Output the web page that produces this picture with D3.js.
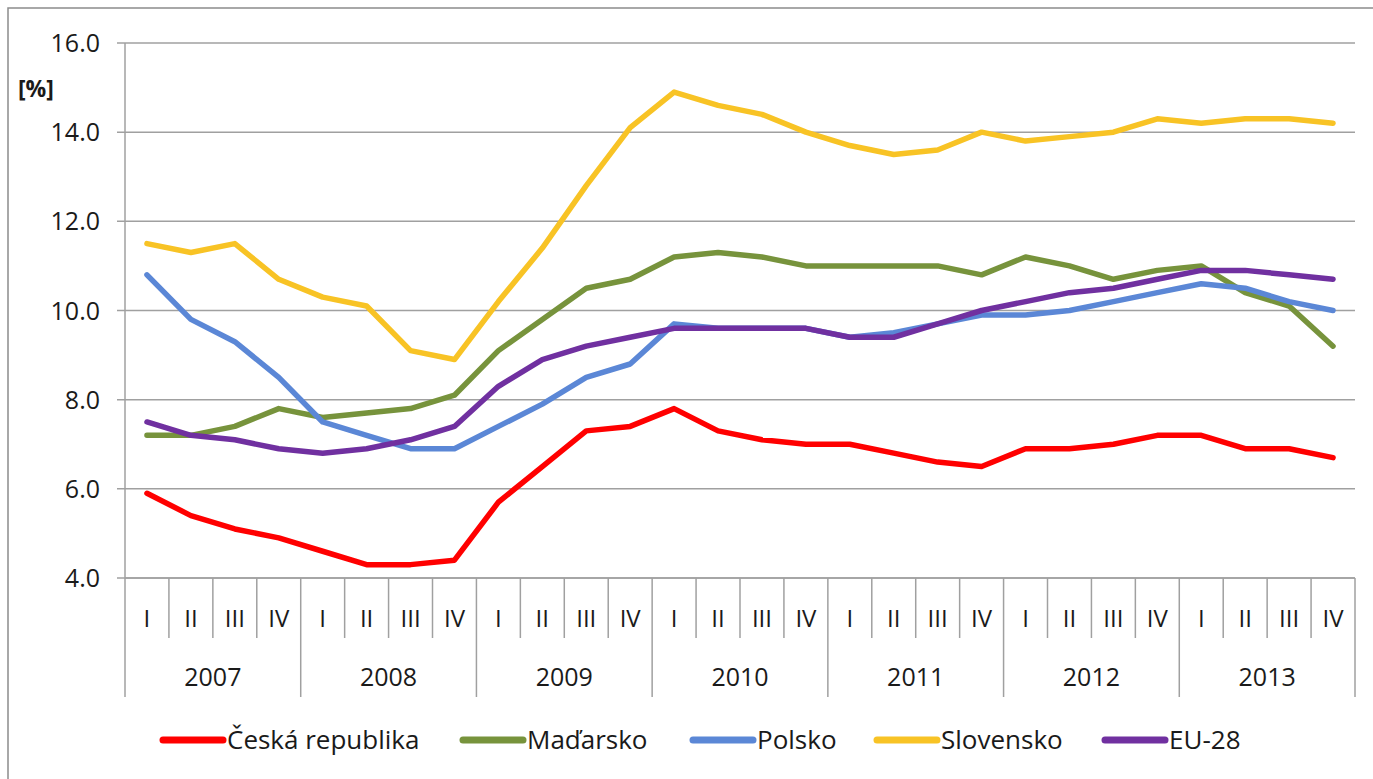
<!DOCTYPE html>
<html>
<head>
<meta charset="utf-8">
<script src="https://cdn.jsdelivr.net/npm/d3@7"></script>
<style>
  body { margin: 0; background: #fff; }
  svg text { font-family: "Open Sans", Lato, sans-serif; fill: #1a1a1a; }
</style>
</head>
<body>
<div id="chart"></div>
<script>
window.onload = () => {
    // data
    const years = ["2007", "2008", "2009", "2010", "2011", "2012", "2013"];
    const quarters = ["I", "II", "III", "IV"];
    const yTicks = [4, 6, 8, 10, 12, 14, 16];

    const seriesNames = ["Česká republika", "Maďarsko", "Polsko", "Slovensko", "EU-28"];
    const seriesColors = ["#ff0000", "#77933c", "#5b87d6", "#f8c325", "#7030a0"];

    const cz = [5.9, 5.4, 5.1, 4.9, 4.6, 4.3, 4.3, 4.4, 5.7, 6.5, 7.3, 7.4, 7.8, 7.3,
                7.1, 7.0, 7.0, 6.8, 6.6, 6.5, 6.9, 6.9, 7.0, 7.2, 7.2, 6.9, 6.9, 6.7];
    const hu = [7.2, 7.2, 7.4, 7.8, 7.6, 7.7, 7.8, 8.1, 9.1, 9.8, 10.5, 10.7, 11.2, 11.3,
                11.2, 11.0, 11.0, 11.0, 11.0, 10.8, 11.2, 11.0, 10.7, 10.9, 11.0, 10.4, 10.1, 9.2];
    const pl = [10.8, 9.8, 9.3, 8.5, 7.5, 7.2, 6.9, 6.9, 7.4, 7.9, 8.5, 8.8, 9.7, 9.6,
                9.6, 9.6, 9.4, 9.5, 9.7, 9.9, 9.9, 10.0, 10.2, 10.4, 10.6, 10.5, 10.2, 10.0];
    const sk = [11.5, 11.3, 11.5, 10.7, 10.3, 10.1, 9.1, 8.9, 10.2, 11.4, 12.8, 14.1, 14.9, 14.6,
                14.4, 14.0, 13.7, 13.5, 13.6, 14.0, 13.8, 13.9, 14.0, 14.3, 14.2, 14.3, 14.3, 14.2];
    const eu = [7.5, 7.2, 7.1, 6.9, 6.8, 6.9, 7.1, 7.4, 8.3, 8.9, 9.2, 9.4, 9.6, 9.6,
                9.6, 9.6, 9.4, 9.4, 9.7, 10.0, 10.2, 10.4, 10.5, 10.7, 10.9, 10.9, 10.8, 10.7];

    const seriesValues = [cz, hu, pl, sk, eu];

    const W = 1373, H = 779;
    const left = 125, right = 1355, top = 43, bottom = 578;
    const gridColor = "#a0a0a0";

    const cats = [];
    years.forEach(yr => quarters.forEach(q => cats.push({ year: yr, q: q })));

    const svg = d3.select("#chart").append("svg")
        .attr("width", W)
        .attr("height", H);

    // outer frame
    svg.append("rect")
        .attr("x", 8)
        .attr("y", 8)
        .attr("width", W + 20)
        .attr("height", H + 20)
        .style("fill", "none")
        .style("stroke", "#8c8c8c")
        .style("stroke-width", 1.5);

    const x = d3.scaleBand()
        .domain(d3.range(cats.length))
        .range([left, right])
        .paddingInner(0)
        .paddingOuter(0);
    const bw = x.bandwidth();
    const cx = i => x(i) + bw / 2;

    const y = d3.scaleLinear()
        .domain([4, 16])
        .range([bottom, top]);

    // gridlines + small ticks to the left
    svg.append("g")
        .selectAll("line")
        .data(yTicks)
        .enter()
        .append("line")
        .attr("x1", left - 8)
        .attr("x2", right)
        .attr("y1", d => y(d))
        .attr("y2", d => y(d))
        .style("stroke", gridColor)
        .style("stroke-width", 1.5);

    // y axis line
    svg.append("line")
        .attr("x1", left).attr("x2", left)
        .attr("y1", top).attr("y2", bottom)
        .style("stroke", gridColor)
        .style("stroke-width", 1.5);

    svg.append("g")
        .selectAll("text")
        .data(yTicks)
        .enter()
        .append("text")
        .text(d => d3.format(".1f")(d))
        .attr("x", 100)
        .attr("y", d => y(d))
        .attr("dy", "0.36em")
        .attr("text-anchor", "end")
        .style("font-size", "25px");

    svg.append("text")
        .text("[%]")
        .attr("x", 18)
        .attr("y", 97)
        .style("font-size", "23px")
        .style("font-weight", "bold");

    // category axis, two levels
    const catAxis = svg.append("g");
    catAxis.selectAll("line.q")
        .data(d3.range(cats.length + 1))
        .enter()
        .append("line")
        .attr("class", "q")
        .attr("x1", i => i < cats.length ? x(i) : right)
        .attr("x2", i => i < cats.length ? x(i) : right)
        .attr("y1", bottom)
        .attr("y2", i => i % 4 === 0 ? 697 : 638)
        .style("stroke", gridColor)
        .style("stroke-width", 1.5);

    catAxis.append("line")
        .attr("x1", left).attr("x2", right)
        .attr("y1", bottom).attr("y2", bottom)
        .style("stroke", gridColor)
        .style("stroke-width", 1.5);

    catAxis.selectAll("text.q")
        .data(cats)
        .enter()
        .append("text")
        .attr("class", "q")
        .text(d => d.q)
        .attr("x", (d, i) => cx(i))
        .attr("y", 618)
        .attr("dy", "0.36em")
        .attr("text-anchor", "middle")
        .style("font-size", "24px");

    catAxis.selectAll("text.yr")
        .data(years)
        .enter()
        .append("text")
        .attr("class", "yr")
        .text(d => d)
        .attr("x", (d, i) => x(i * 4) + bw * 2)
        .attr("y", 677)
        .attr("dy", "0.36em")
        .attr("text-anchor", "middle")
        .style("font-size", "25px");

    // lines
    const line = d3.line()
        .x((d, i) => cx(i))
        .y(d => y(d));

    svg.append("g")
        .selectAll("path")
        .data(seriesValues)
        .enter()
        .append("path")
        .attr("d", line)
        .style("fill", "none")
        .style("stroke", (d, i) => seriesColors[i])
        .style("stroke-width", 5.5)
        .style("stroke-linejoin", "round")
        .style("stroke-linecap", "round");

    // legend
    const legendX = [163, 463, 693, 877, 1105];
    const legend = svg.append("g")
        .selectAll("g")
        .data(seriesNames)
        .enter()
        .append("g")
        .attr("transform", (d, i) => "translate(" + legendX[i] + ",740)");

    legend.append("line")
        .attr("x1", 0).attr("x2", 60)
        .attr("y1", 0).attr("y2", 0)
        .style("stroke", (d, i) => seriesColors[i])
        .style("stroke-width", 7)
        .style("stroke-linecap", "round");

    legend.append("text")
        .text(d => d)
        .attr("x", 64)
        .attr("y", 0)
        .attr("dy", "0.36em")
        .style("font-size", "26px");
};
</script>
</body>
</html>
